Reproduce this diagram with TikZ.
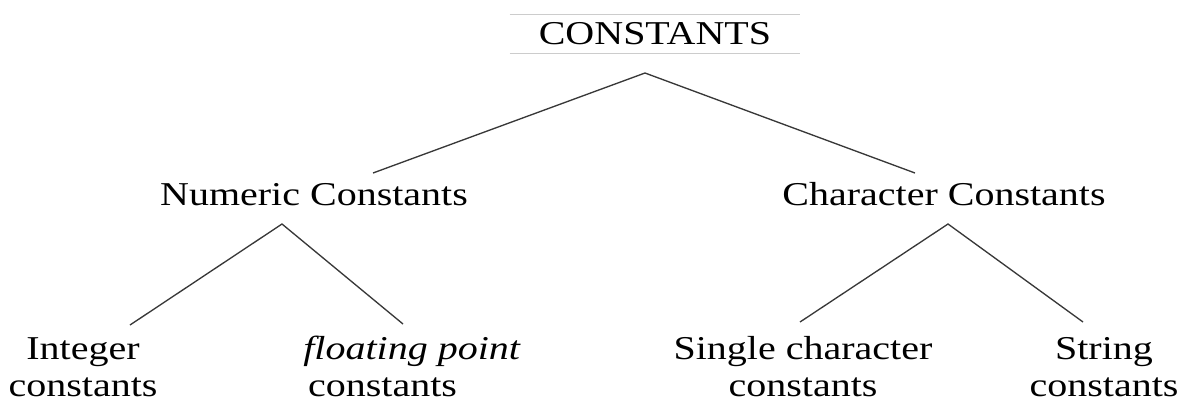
\documentclass[tikz,border=0pt]{standalone}
\usepackage{fontspec}
\setmainfont{Liberation Serif}[FakeStretch=1.2]
\usetikzlibrary{positioning}
\definecolor{rulegray}{rgb}{.80,.80,.80}
\definecolor{linegray}{rgb}{.22,.22,.22}

\begin{document}
\begin{tikzpicture}[x=0.75pt, y=-0.75pt, font=\fontsize{25}{27.75}\selectfont,
	   t/.style={inner sep=0pt, align=center},
	   e/.style={draw=linegray, line width=1pt}]
	  \useasboundingbox (0,0) rectangle (1187,401);
	  \node[t, minimum width=217.5pt, minimum height=28.5pt] (const) at (655,34) {CONSTANTS};
	  \draw[rulegray, line width=.8pt] (const.north west) -- (const.north east)
	    (const.south west) -- (const.south east);
	  \node[t, anchor=base] (num) at (314,205) {Numeric Constants};
	  \node[t, anchor=base] (chr) at (944,205) {Character Constants};
	  \node[t, anchor=base] (int) at (83,396) {Integer\\ constants};
	  \node[t, anchor=base west, align=left] (flt) at (303,396) {\textit{floating point}\\\hspace*{9\pgflinewidth}constants};
	  \node[t, anchor=base] (sgl) at (803,396) {Single character\\ constants};
	  \node[t, anchor=base] (str) at (1104,396) {String\\ constants};
	  % branch points
	  \coordinate (const-b) at (645,73);
	  \coordinate (num-l) at (373,173); \coordinate (chr-l) at (915,173);
	  \coordinate (num-b) at (282,224); \coordinate (chr-b) at (948,224);
	  \coordinate (int-t) at (130,325); \coordinate (flt-t) at (403,324);
	  \coordinate (sgl-t) at (800,322); \coordinate (str-t) at (1083,322);
	  \draw[e] (num-l) -- (const-b) -- (chr-l);
	  \draw[e] (int-t) -- (num-b) -- (flt-t);
	  \draw[e] (sgl-t) -- (chr-b) -- (str-t);
	\end{tikzpicture}
\end{document}
